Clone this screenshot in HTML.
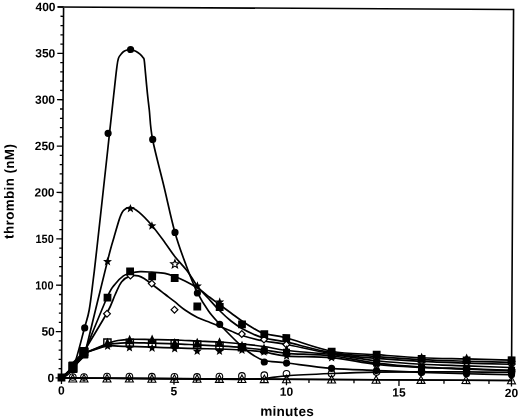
<!DOCTYPE html>
<html><head><meta charset="utf-8"><style>html,body{margin:0;padding:0;background:#fff;width:520px;height:419px;overflow:hidden}svg{display:block;will-change:transform}</style></head>
<body><svg width="520" height="419" viewBox="0 0 520 419"><rect width="520" height="419" fill="#fff"/><g transform="rotate(0.320 61.50 378.00)"><g stroke="#000" stroke-width="1.6" fill="none">
<path d="M55.5,7 H511.5 V378 H61.5 V7"/>
</g>
<path d="M55.5,378.00H61.5 M58.5,368.73H61.5 M58.5,359.45H61.5 M58.5,350.18H61.5 M58.5,340.90H61.5 M55.5,331.62H61.5 M58.5,322.35H61.5 M58.5,313.07H61.5 M58.5,303.80H61.5 M58.5,294.52H61.5 M55.5,285.25H61.5 M58.5,275.98H61.5 M58.5,266.70H61.5 M58.5,257.43H61.5 M58.5,248.15H61.5 M55.5,238.88H61.5 M58.5,229.60H61.5 M58.5,220.32H61.5 M58.5,211.05H61.5 M58.5,201.78H61.5 M55.5,192.50H61.5 M58.5,183.22H61.5 M58.5,173.95H61.5 M58.5,164.68H61.5 M58.5,155.40H61.5 M55.5,146.12H61.5 M58.5,136.85H61.5 M58.5,127.57H61.5 M58.5,118.30H61.5 M58.5,109.02H61.5 M55.5,99.75H61.5 M58.5,90.48H61.5 M58.5,81.20H61.5 M58.5,71.93H61.5 M58.5,62.65H61.5 M55.5,53.38H61.5 M58.5,44.10H61.5 M58.5,34.82H61.5 M58.5,25.55H61.5 M58.5,16.27H61.5 M55.5,7.00H61.5 M61.50,378V384 M84.00,378V381.5 M106.50,378V381.5 M129.00,378V381.5 M151.50,378V381.5 M174.00,378V384 M196.50,378V381.5 M219.00,378V381.5 M241.50,378V381.5 M264.00,378V381.5 M286.50,378V384 M309.00,378V381.5 M331.50,378V381.5 M354.00,378V381.5 M376.50,378V381.5 M399.00,378V384 M421.50,378V381.5 M444.00,378V381.5 M466.50,378V381.5 M489.00,378V381.5 M511.50,378V384" stroke="#000" stroke-width="1.3" fill="none"/>
<g stroke="#000" stroke-width="1.7" fill="none" stroke-linejoin="round" stroke-linecap="round">
<path d="M61.50,378.00 C63.37,376.41 68.96,376.79 72.75,368.44 C76.53,360.08 81.54,337.64 84.22,327.87 C86.90,318.11 87.41,317.85 88.82,309.85 C90.23,301.84 91.46,289.83 92.65,279.82 C93.85,269.82 94.42,264.48 95.98,249.81 C97.55,235.13 100.32,208.45 102.06,191.77 C103.80,175.09 105.41,159.53 106.43,149.75 C107.44,139.96 107.20,142.04 108.13,133.04 C109.07,124.03 110.88,106.54 112.02,95.71 C113.16,84.89 114.21,74.37 114.97,68.10 C115.74,61.83 115.79,60.59 116.61,58.09 C117.43,55.58 118.79,54.34 119.89,53.07 C120.98,51.80 121.71,51.11 123.17,50.45 C124.63,49.79 126.86,49.05 128.66,49.12 C130.46,49.19 132.39,50.12 133.97,50.89 C135.56,51.66 136.98,52.74 138.19,53.77 C139.40,54.79 140.50,56.09 141.21,57.05 C141.91,58.01 141.99,56.90 142.42,59.54 C142.85,62.19 143.23,67.37 143.80,72.94 C144.36,78.50 145.14,86.83 145.81,92.92 C146.48,99.02 146.91,101.92 147.80,109.51 C148.69,117.11 148.68,125.89 151.16,138.50 C153.65,151.10 158.92,169.67 162.72,185.13 C166.53,200.59 170.21,218.07 173.98,231.27 C177.76,244.47 181.56,254.23 185.37,264.31 C189.17,274.39 193.03,284.10 196.82,291.74 C200.61,299.39 204.36,304.92 208.12,310.18 C211.89,315.44 215.62,319.17 219.40,323.32 C223.17,327.46 227.03,331.36 230.76,335.05 C234.50,338.75 238.14,342.35 241.82,345.49 C245.51,348.64 249.12,351.62 252.87,353.93 C256.61,356.24 258.69,358.06 264.30,359.37 C269.90,360.67 275.30,360.52 286.50,361.77 C297.70,363.02 316.50,365.71 331.50,366.87 C346.50,368.03 361.50,368.14 376.50,368.73 C391.50,369.31 406.50,369.93 421.50,370.39 C436.50,370.86 451.50,371.20 466.50,371.51 C481.50,371.82 504.00,372.13 511.50,372.25"/>
<path d="M61.50,378.00 C63.37,376.24 68.62,372.54 72.74,367.44 C76.86,362.33 83.98,350.71 86.23,347.36 L86.23,347.36 C89.65,332.99 102.23,279.59 106.75,261.15 C111.26,242.70 111.29,243.97 113.31,236.71 C115.34,229.45 117.35,222.04 118.90,217.58 C120.46,213.12 120.92,211.72 122.66,209.96 C124.40,208.20 126.79,206.72 129.35,207.02 C131.90,207.32 134.36,208.77 137.97,211.77 C141.59,214.77 146.67,219.94 151.05,225.00 C155.43,230.06 160.36,236.95 164.24,242.12 C168.12,247.30 170.53,251.31 174.32,256.07 C178.11,260.83 183.31,265.88 187.00,270.70 C190.70,275.51 193.06,280.53 196.48,284.94 C199.91,289.36 203.78,293.07 207.55,297.18 C211.32,301.30 215.27,305.81 219.12,309.62 C222.98,313.43 226.91,317.08 230.68,320.05 C234.45,323.03 238.04,325.35 241.72,327.49 C245.40,329.64 249.08,331.37 252.75,332.93 C256.43,334.49 258.15,335.54 263.77,336.87 C269.40,338.20 275.21,338.53 286.50,340.90 C297.79,343.27 316.50,348.78 331.50,351.10 C346.50,353.42 361.50,353.73 376.50,354.81 C391.50,355.89 406.50,356.90 421.50,357.60 C436.50,358.29 451.50,358.60 466.50,358.99 C481.50,359.37 504.00,359.76 511.50,359.91"/>
<path d="M61.50,378.00 C63.37,376.07 68.61,371.54 72.74,366.44 C76.86,361.33 83.98,350.54 86.23,347.36 L86.23,347.36 C89.70,338.84 102.34,306.82 107.04,296.24 C111.75,285.67 111.84,287.35 114.48,283.90 C117.11,280.45 120.34,277.37 122.83,275.56 C125.32,273.74 126.64,273.73 129.41,273.02 C132.19,272.30 135.87,271.48 139.51,271.26 C143.14,271.04 147.06,271.44 151.21,271.70 C155.36,271.96 160.59,272.13 164.41,272.82 C168.23,273.52 170.79,274.62 174.13,275.87 C177.47,277.12 180.65,278.42 184.46,280.31 C188.27,282.21 192.81,284.52 197.00,287.24 C201.18,289.97 205.78,293.86 209.55,296.67 C213.31,299.48 216.08,301.55 219.59,304.12 C223.10,306.68 226.95,309.41 230.63,312.05 C234.32,314.70 238.00,317.51 241.68,319.99 C245.36,322.47 249.04,324.87 252.72,326.93 C256.40,328.99 258.12,330.74 263.75,332.37 C269.38,334.00 275.21,333.84 286.50,336.73 C297.79,339.62 316.50,347.01 331.50,349.71 C346.50,352.42 361.50,351.95 376.50,352.96 C391.50,353.96 406.50,355.12 421.50,355.74 C436.50,356.36 451.50,356.36 466.50,356.67 C481.50,356.98 504.00,357.44 511.50,357.60"/>
<path d="M61.50,378.00 C63.37,376.16 68.62,372.04 72.74,366.94 C76.86,361.83 83.98,350.62 86.23,347.36 L86.23,347.36 C89.71,341.43 102.41,320.52 107.13,311.74 C111.85,302.97 112.20,299.77 114.54,294.70 C116.87,289.64 118.61,284.56 121.16,281.37 C123.71,278.17 127.05,276.50 129.83,275.52 C132.61,274.53 135.38,274.94 137.83,275.47 C140.28,276.01 142.31,277.36 144.55,278.73 C146.79,280.11 149.03,282.04 151.27,283.70 C153.52,285.35 155.79,286.99 158.00,288.66 C160.21,290.33 161.82,291.66 164.53,293.72 C167.24,295.79 170.92,298.47 174.27,301.07 C177.62,303.67 180.80,306.70 184.62,309.31 C188.43,311.92 192.98,314.68 197.16,316.74 C201.34,318.80 205.93,320.19 209.69,321.67 C213.45,323.15 216.20,324.22 219.71,325.62 C223.22,327.01 227.06,328.57 230.73,330.05 C234.41,331.53 236.25,332.86 241.76,334.49 C247.27,336.13 256.33,338.42 263.79,339.87 C271.25,341.32 275.22,341.19 286.50,343.22 C297.78,345.25 316.50,349.79 331.50,352.03 C346.50,354.27 361.50,355.43 376.50,356.67 C391.50,357.90 406.50,358.75 421.50,359.45 C436.50,360.15 451.50,360.45 466.50,360.84 C481.50,361.23 504.00,361.61 511.50,361.77"/>
<path d="M61.50,378.00 C63.37,376.16 68.68,371.21 72.74,366.94 C76.80,362.66 83.67,354.79 85.86,352.36 L85.86,352.36 C89.43,350.84 103.73,344.76 107.31,343.24 L107.31,343.24 C109.05,342.73 114.04,340.91 117.79,340.19 C121.54,339.46 124.12,339.10 129.78,338.92 C135.45,338.74 144.28,339.02 151.78,339.10 C159.28,339.17 167.28,339.18 174.79,339.37 C182.29,339.56 189.37,339.95 196.79,340.24 C204.21,340.54 211.79,340.66 219.30,341.12 C226.80,341.58 234.39,342.28 241.81,342.99 C249.23,343.70 256.37,344.33 263.82,345.37 C271.27,346.41 275.22,347.98 286.50,349.25 C297.78,350.51 316.50,351.33 331.50,352.96 C346.50,354.58 361.50,357.44 376.50,358.99 C391.50,360.53 406.50,361.46 421.50,362.23 C436.50,363.01 451.50,363.16 466.50,363.62 C481.50,364.09 504.00,364.78 511.50,365.02"/>
<path d="M61.50,378.00 C63.37,376.24 68.68,371.71 72.74,367.44 C76.80,363.16 83.67,354.88 85.86,352.36 L85.86,352.36 C89.43,351.01 103.74,345.60 107.31,344.24 L107.31,344.24 C109.06,344.03 114.06,343.32 117.81,342.98 C121.55,342.65 124.13,342.27 129.80,342.22 C135.47,342.17 144.30,342.54 151.80,342.70 C159.31,342.85 167.31,342.93 174.81,343.17 C182.31,343.41 189.39,343.82 196.81,344.14 C204.23,344.47 211.82,344.73 219.32,345.12 C226.82,345.51 234.41,345.87 241.83,346.49 C249.25,347.12 256.39,347.95 263.84,348.87 C271.29,349.79 275.22,351.12 286.50,352.03 C297.78,352.94 316.50,352.80 331.50,354.35 C346.50,355.89 361.50,359.53 376.50,361.31 C391.50,363.08 406.50,364.16 421.50,365.02 C436.50,365.87 451.50,365.94 466.50,366.41 C481.50,366.87 504.00,367.57 511.50,367.80"/>
<path d="M61.50,378.00 C63.37,376.32 68.68,372.21 72.74,367.94 C76.80,363.66 83.67,354.96 85.86,352.36 L85.86,352.36 C89.43,351.18 103.74,346.43 107.32,345.24 L107.32,345.24 C109.07,345.35 114.07,345.76 117.82,345.88 C121.57,346.01 124.15,345.88 129.82,346.02 C135.49,346.15 144.33,346.49 151.83,346.70 C159.33,346.90 167.33,347.08 174.83,347.27 C182.33,347.46 189.42,347.70 196.83,347.84 C204.25,347.99 211.83,347.93 219.34,348.12 C226.84,348.31 234.42,348.53 241.84,348.99 C249.26,349.45 256.41,349.90 263.85,350.87 C271.29,351.84 275.23,353.92 286.50,354.81 C297.77,355.70 316.50,354.89 331.50,356.20 C346.50,357.52 361.50,361.15 376.50,362.70 C391.50,364.24 406.50,364.78 421.50,365.48 C436.50,366.17 451.50,366.41 466.50,366.87 C481.50,367.33 504.00,368.03 511.50,368.26"/>
<path d="M61.50,378.00 C65.25,377.98 57.67,377.82 84.00,377.87 C110.33,377.93 193.25,378.25 219.50,378.32 C245.76,378.39 234.09,378.44 241.50,378.29 C248.92,378.15 256.50,378.11 264.00,377.47 C271.50,376.83 275.25,375.39 286.50,374.48 C297.75,373.56 316.50,372.67 331.50,371.97 C346.50,371.28 361.50,370.66 376.50,370.30 C391.50,369.95 406.50,369.95 421.50,369.84 C436.50,369.73 451.50,369.65 466.50,369.65 C481.50,369.65 504.00,369.81 511.50,369.84"/>
<path d="M61.50,378.00 C136.50,378.00 436.51,377.99 511.51,377.99"/>
</g>
<path d="M72.81,374.44 l4,7.5 l-8,0z" fill="none" stroke="#000" stroke-width="1.1"/>
<path d="M84.01,374.37 l4,7.5 l-8,0z" fill="none" stroke="#000" stroke-width="1.1"/>
<path d="M107.00,374.25 l4,7.5 l-8,0z" fill="none" stroke="#000" stroke-width="1.1"/>
<path d="M129.40,374.12 l4,7.5 l-8,0z" fill="none" stroke="#000" stroke-width="1.1"/>
<path d="M151.91,374.20 l4,7.5 l-8,0z" fill="none" stroke="#000" stroke-width="1.1"/>
<path d="M174.41,374.17 l4,7.5 l-8,0z" fill="none" stroke="#000" stroke-width="1.1"/>
<path d="M197.01,374.04 l4,7.5 l-8,0z" fill="none" stroke="#000" stroke-width="1.1"/>
<path d="M219.41,374.02 l4,7.5 l-8,0z" fill="none" stroke="#000" stroke-width="1.1"/>
<path d="M241.91,373.99 l4,7.5 l-8,0z" fill="none" stroke="#000" stroke-width="1.1"/>
<path d="M264.31,373.97 l4,7.5 l-8,0z" fill="none" stroke="#000" stroke-width="1.1"/>
<path d="M286.51,373.94 l4,7.5 l-8,0z" fill="none" stroke="#000" stroke-width="1.1"/>
<path d="M331.61,373.99 l4,7.5 l-8,0z" fill="none" stroke="#000" stroke-width="1.1"/>
<path d="M376.11,373.94 l4,7.5 l-8,0z" fill="none" stroke="#000" stroke-width="1.1"/>
<path d="M421.01,373.89 l4,7.5 l-8,0z" fill="none" stroke="#000" stroke-width="1.1"/>
<path d="M466.01,373.84 l4,7.5 l-8,0z" fill="none" stroke="#000" stroke-width="1.1"/>
<path d="M511.51,373.79 l4,7.5 l-8,0z" fill="none" stroke="#000" stroke-width="1.1"/>
<circle cx="72.79" cy="376.94" r="3.3" fill="none" stroke="#000" stroke-width="1.1"/>
<circle cx="83.99" cy="376.87" r="3.3" fill="none" stroke="#000" stroke-width="1.1"/>
<circle cx="106.99" cy="376.25" r="3.3" fill="none" stroke="#000" stroke-width="1.1"/>
<circle cx="129.39" cy="376.22" r="3.3" fill="none" stroke="#000" stroke-width="1.1"/>
<circle cx="151.89" cy="376.20" r="3.3" fill="none" stroke="#000" stroke-width="1.1"/>
<circle cx="174.39" cy="376.17" r="3.3" fill="none" stroke="#000" stroke-width="1.1"/>
<circle cx="196.99" cy="376.14" r="3.3" fill="none" stroke="#000" stroke-width="1.1"/>
<circle cx="219.39" cy="375.72" r="3.3" fill="none" stroke="#000" stroke-width="1.1"/>
<circle cx="241.89" cy="374.89" r="3.3" fill="none" stroke="#000" stroke-width="1.1"/>
<circle cx="264.28" cy="374.07" r="3.3" fill="none" stroke="#000" stroke-width="1.1"/>
<circle cx="286.47" cy="372.54" r="3.3" fill="none" stroke="#000" stroke-width="1.1"/>
<circle cx="331.50" cy="371.97" r="3.3" fill="none" stroke="#000" stroke-width="1.1"/>
<circle cx="376.50" cy="370.30" r="3.3" fill="none" stroke="#000" stroke-width="1.1"/>
<circle cx="421.50" cy="369.84" r="3.3" fill="none" stroke="#000" stroke-width="1.1"/>
<circle cx="466.50" cy="369.65" r="3.3" fill="none" stroke="#000" stroke-width="1.1"/>
<circle cx="511.50" cy="369.84" r="3.3" fill="none" stroke="#000" stroke-width="1.1"/>
<path d="M106.64,310.15 l3.4,3.4 l-3.4,3.4 l-3.4,-3.4z" fill="#fff" stroke="#000" stroke-width="1.2"/>
<path d="M129.83,271.82 l3.4,3.4 l-3.4,3.4 l-3.4,-3.4z" fill="#fff" stroke="#000" stroke-width="1.2"/>
<path d="M151.27,279.70 l3.4,3.4 l-3.4,3.4 l-3.4,-3.4z" fill="#fff" stroke="#000" stroke-width="1.2"/>
<path d="M174.12,305.67 l3.4,3.4 l-3.4,3.4 l-3.4,-3.4z" fill="#fff" stroke="#000" stroke-width="1.2"/>
<path d="M241.55,329.59 l3.4,3.4 l-3.4,3.4 l-3.4,-3.4z" fill="#fff" stroke="#000" stroke-width="1.2"/>
<path d="M263.78,334.97 l3.4,3.4 l-3.4,3.4 l-3.4,-3.4z" fill="#fff" stroke="#000" stroke-width="1.2"/>
<path d="M286.11,339.85 l3.4,3.4 l-3.4,3.4 l-3.4,-3.4z" fill="#fff" stroke="#000" stroke-width="1.2"/>
<path d="M331.50,348.63 l3.4,3.4 l-3.4,3.4 l-3.4,-3.4z" fill="#fff" stroke="#000" stroke-width="1.2"/>
<path d="M376.50,353.27 l3.4,3.4 l-3.4,3.4 l-3.4,-3.4z" fill="#fff" stroke="#000" stroke-width="1.2"/>
<path d="M421.50,356.05 l3.4,3.4 l-3.4,3.4 l-3.4,-3.4z" fill="#fff" stroke="#000" stroke-width="1.2"/>
<path d="M466.50,357.44 l3.4,3.4 l-3.4,3.4 l-3.4,-3.4z" fill="#fff" stroke="#000" stroke-width="1.2"/>
<path d="M511.50,358.37 l3.4,3.4 l-3.4,3.4 l-3.4,-3.4z" fill="#fff" stroke="#000" stroke-width="1.2"/>
<rect x="103.60" y="338.74" width="7.2" height="7.2" fill="none" stroke="#000" stroke-width="1.4"/>
<rect x="126.00" y="338.92" width="7.2" height="7.2" fill="none" stroke="#000" stroke-width="1.4"/>
<rect x="148.31" y="339.29" width="7.2" height="7.2" fill="none" stroke="#000" stroke-width="1.4"/>
<rect x="170.90" y="339.07" width="7.2" height="7.2" fill="none" stroke="#000" stroke-width="1.4"/>
<rect x="193.41" y="340.24" width="7.2" height="7.2" fill="none" stroke="#000" stroke-width="1.4"/>
<rect x="215.72" y="341.32" width="7.2" height="7.2" fill="none" stroke="#000" stroke-width="1.4"/>
<rect x="238.23" y="342.69" width="7.2" height="7.2" fill="none" stroke="#000" stroke-width="1.4"/>
<path d="M174.26,259.27 L175.38,262.03 L178.35,262.24 L176.07,264.16 L176.79,267.05 L174.26,265.47 L171.74,267.05 L172.46,264.16 L170.17,262.24 L173.15,262.03Z" fill="#fff" stroke="#000" stroke-width="1.2"/>
<path d="M106.85,256.64 L108.02,259.73 L111.32,259.89 L108.75,261.96 L109.61,265.15 L106.85,263.34 L104.09,265.15 L104.95,261.96 L102.38,259.89 L105.67,259.73Z" fill="#000"/>
<path d="M151.05,220.70 L152.22,223.78 L155.52,223.95 L152.95,226.02 L153.81,229.20 L151.05,227.40 L148.29,229.20 L149.15,226.02 L146.58,223.95 L149.87,223.78Z" fill="#000"/>
<path d="M196.88,280.54 L198.06,283.62 L201.35,283.79 L198.79,285.86 L199.65,289.04 L196.88,287.24 L194.12,289.04 L194.98,285.86 L192.41,283.79 L195.71,283.62Z" fill="#000"/>
<path d="M219.27,296.42 L220.45,299.50 L223.74,299.67 L221.18,301.74 L222.04,304.92 L219.27,303.12 L216.51,304.92 L217.37,301.74 L214.80,299.67 L218.10,299.50Z" fill="#000"/>
<path d="M129.45,203.52 L130.63,206.60 L133.92,206.77 L131.35,208.84 L132.22,212.02 L129.45,210.22 L126.69,212.02 L127.55,208.84 L124.98,206.77 L128.28,206.60Z" fill="#000"/>
<path d="M376.50,350.11 L377.68,353.19 L380.97,353.36 L378.40,355.43 L379.26,358.61 L376.50,356.81 L373.74,358.61 L374.60,355.43 L372.03,353.36 L375.32,353.19Z" fill="#000"/>
<path d="M421.50,352.90 L422.68,355.98 L425.97,356.14 L423.40,358.21 L424.26,361.40 L421.50,359.60 L418.74,361.40 L419.60,358.21 L417.03,356.14 L420.32,355.98Z" fill="#000"/>
<path d="M466.50,354.29 L467.68,357.37 L470.97,357.53 L468.40,359.60 L469.26,362.79 L466.50,360.99 L463.74,362.79 L464.60,359.60 L462.03,357.53 L465.32,357.37Z" fill="#000"/>
<path d="M511.50,355.21 L512.68,358.30 L515.97,358.46 L513.40,360.53 L514.26,363.72 L511.50,361.91 L508.74,363.72 L509.60,360.53 L507.03,358.46 L510.32,358.30Z" fill="#000"/>
<path d="M107.42,341.24 L108.60,344.32 L111.89,344.49 L109.32,346.56 L110.18,349.75 L107.42,347.94 L104.66,349.75 L105.52,346.56 L102.95,344.49 L106.25,344.32Z" fill="#000"/>
<path d="M129.33,342.72 L130.51,345.80 L133.80,345.97 L131.23,348.04 L132.09,351.22 L129.33,349.42 L126.57,351.22 L127.43,348.04 L124.86,345.97 L128.15,345.80Z" fill="#000"/>
<path d="M151.93,342.89 L153.11,345.98 L156.40,346.14 L153.83,348.21 L154.69,351.40 L151.93,349.59 L149.17,351.40 L150.03,348.21 L147.46,346.14 L150.76,345.98Z" fill="#000"/>
<path d="M174.54,343.47 L175.71,346.55 L179.01,346.72 L176.44,348.79 L177.30,351.97 L174.54,350.17 L171.77,351.97 L172.63,348.79 L170.07,346.72 L173.36,346.55Z" fill="#000"/>
<path d="M197.05,345.84 L198.22,348.92 L201.52,349.09 L198.95,351.16 L199.81,354.34 L197.05,352.54 L194.29,354.34 L195.15,351.16 L192.58,349.09 L195.87,348.92Z" fill="#000"/>
<path d="M219.35,345.72 L220.52,348.80 L223.82,348.97 L221.25,351.04 L222.11,354.22 L219.35,352.42 L216.59,354.22 L217.45,351.04 L214.88,348.97 L218.17,348.80Z" fill="#000"/>
<path d="M241.84,344.59 L243.02,347.67 L246.31,347.84 L243.74,349.91 L244.61,353.09 L241.84,351.29 L239.08,353.09 L239.94,349.91 L237.37,347.84 L240.67,347.67Z" fill="#000"/>
<path d="M263.85,346.17 L265.03,349.25 L268.32,349.42 L265.75,351.49 L266.61,354.67 L263.85,352.87 L261.09,354.67 L261.95,351.49 L259.38,349.42 L262.68,349.25Z" fill="#000"/>
<path d="M286.50,350.11 L287.68,353.19 L290.97,353.36 L288.40,355.43 L289.26,358.61 L286.50,356.81 L283.74,358.61 L284.60,355.43 L282.03,353.36 L285.32,353.19Z" fill="#000"/>
<path d="M331.50,351.50 L332.68,354.59 L335.97,354.75 L333.40,356.82 L334.26,360.01 L331.50,358.20 L328.74,360.01 L329.60,356.82 L327.03,354.75 L330.32,354.59Z" fill="#000"/>
<path d="M376.50,358.00 L377.68,361.08 L380.97,361.24 L378.40,363.31 L379.26,366.50 L376.50,364.70 L373.74,366.50 L374.60,363.31 L372.03,361.24 L375.32,361.08Z" fill="#000"/>
<path d="M421.50,360.78 L422.68,363.86 L425.97,364.03 L423.40,366.10 L424.26,369.28 L421.50,367.48 L418.74,369.28 L419.60,366.10 L417.03,364.03 L420.32,363.86Z" fill="#000"/>
<path d="M466.50,362.17 L467.68,365.25 L470.97,365.42 L468.40,367.49 L469.26,370.67 L466.50,368.87 L463.74,370.67 L464.60,367.49 L462.03,365.42 L465.32,365.25Z" fill="#000"/>
<path d="M511.50,363.56 L512.68,366.64 L515.97,366.81 L513.40,368.88 L514.26,372.06 L511.50,370.26 L508.74,372.06 L509.60,368.88 L507.03,366.81 L510.32,366.64Z" fill="#000"/>
<path d="M107.21,337.54 l4.3,9.5 l-8.6,0z" fill="#000"/>
<path d="M129.39,334.32 l4.3,9.5 l-8.6,0z" fill="#000"/>
<path d="M151.89,333.99 l4.3,9.5 l-8.6,0z" fill="#000"/>
<path d="M174.50,337.27 l4.3,9.5 l-8.6,0z" fill="#000"/>
<path d="M197.00,336.94 l4.3,9.5 l-8.6,0z" fill="#000"/>
<path d="M219.30,336.42 l4.3,9.5 l-8.6,0z" fill="#000"/>
<path d="M241.82,339.69 l4.3,9.5 l-8.6,0z" fill="#000"/>
<path d="M263.83,342.37 l4.3,9.5 l-8.6,0z" fill="#000"/>
<path d="M286.50,343.75 l4.3,9.5 l-8.6,0z" fill="#000"/>
<path d="M331.50,347.46 l4.3,9.5 l-8.6,0z" fill="#000"/>
<path d="M376.50,353.49 l4.3,9.5 l-8.6,0z" fill="#000"/>
<path d="M421.50,350.70 l4.3,9.5 l-8.6,0z" fill="#000"/>
<path d="M466.50,351.17 l4.3,9.5 l-8.6,0z" fill="#000"/>
<path d="M511.50,359.52 l4.3,9.5 l-8.6,0z" fill="#000"/>
<rect x="260.64" y="346.17" width="7" height="7" fill="#000"/>
<rect x="282.85" y="347.54" width="7" height="7" fill="#000"/>
<rect x="328.00" y="350.85" width="7" height="7" fill="#000"/>
<rect x="373.00" y="357.81" width="7" height="7" fill="#000"/>
<rect x="418.00" y="361.52" width="7" height="7" fill="#000"/>
<rect x="463.00" y="362.91" width="7" height="7" fill="#000"/>
<rect x="508.00" y="364.30" width="7" height="7" fill="#000"/>
<circle cx="84.42" cy="327.77" r="3.6" fill="#000"/>
<circle cx="106.73" cy="133.04" r="3.6" fill="#000"/>
<circle cx="128.76" cy="49.12" r="3.6" fill="#000"/>
<circle cx="151.37" cy="138.89" r="3.6" fill="#000"/>
<circle cx="174.19" cy="231.77" r="3.6" fill="#000"/>
<circle cx="196.92" cy="292.24" r="3.6" fill="#000"/>
<circle cx="219.40" cy="323.42" r="3.6" fill="#000"/>
<circle cx="241.82" cy="345.99" r="3.6" fill="#000"/>
<circle cx="264.21" cy="360.87" r="3.6" fill="#000"/>
<circle cx="286.50" cy="361.77" r="3.6" fill="#000"/>
<circle cx="331.50" cy="366.87" r="3.6" fill="#000"/>
<circle cx="376.50" cy="368.73" r="3.6" fill="#000"/>
<circle cx="421.50" cy="370.39" r="3.6" fill="#000"/>
<circle cx="466.50" cy="371.51" r="3.6" fill="#000"/>
<circle cx="511.50" cy="372.25" r="3.6" fill="#000"/>
<rect x="57.60" y="373.60" width="7.8" height="7.8" fill="#000"/>
<rect x="68.63" y="362.04" width="7.8" height="7.8" fill="#000"/>
<rect x="80.45" y="347.97" width="7.8" height="7.8" fill="#000"/>
<rect x="103.15" y="293.44" width="7.8" height="7.8" fill="#000"/>
<rect x="125.60" y="267.02" width="7.8" height="7.8" fill="#000"/>
<rect x="147.73" y="271.90" width="7.8" height="7.8" fill="#000"/>
<rect x="170.24" y="273.47" width="7.8" height="7.8" fill="#000"/>
<rect x="193.00" y="301.84" width="7.8" height="7.8" fill="#000"/>
<rect x="215.40" y="302.22" width="7.8" height="7.8" fill="#000"/>
<rect x="237.80" y="319.39" width="7.8" height="7.8" fill="#000"/>
<rect x="260.15" y="329.17" width="7.8" height="7.8" fill="#000"/>
<rect x="282.17" y="332.85" width="7.8" height="7.8" fill="#000"/>
<rect x="327.60" y="346.27" width="7.8" height="7.8" fill="#000"/>
<rect x="372.60" y="349.06" width="7.8" height="7.8" fill="#000"/>
<rect x="417.60" y="352.95" width="7.8" height="7.8" fill="#000"/>
<rect x="462.60" y="354.16" width="7.8" height="7.8" fill="#000"/>
<rect x="507.60" y="353.88" width="7.8" height="7.8" fill="#000"/>
<rect x="68.24" y="361.44" width="9.4" height="11.4" rx="1" fill="#000"/>
<rect x="78.96" y="346.88" width="9.4" height="11.4" rx="1" fill="#000"/>
<path d="M74.42,363.43 L82.37,355.38" stroke="#000" stroke-width="5" stroke-linecap="round"/>
<g font-family="Liberation Sans, sans-serif" font-weight="bold" font-size="12" fill="#000" text-anchor="end">
<text transform="translate(54.2,378.10) scale(1.00,1)" dominant-baseline="central">0</text>
<text transform="translate(54.5,331.73) scale(1.00,1)" dominant-baseline="central">50</text>
<text transform="translate(53.0,285.35) scale(0.91,1)" dominant-baseline="central">100</text>
<text transform="translate(53.0,238.97) scale(0.91,1)" dominant-baseline="central">150</text>
<text transform="translate(53.5,192.60) scale(1.00,1)" dominant-baseline="central">200</text>
<text transform="translate(53.5,146.22) scale(1.00,1)" dominant-baseline="central">250</text>
<text transform="translate(53.5,99.85) scale(1.00,1)" dominant-baseline="central">300</text>
<text transform="translate(53.5,53.48) scale(1.00,1)" dominant-baseline="central">350</text>
<text transform="translate(53.5,7.10) scale(1.00,1)" dominant-baseline="central">400</text>
</g>
<g font-family="Liberation Sans, sans-serif" font-weight="bold" font-size="12" fill="#000" text-anchor="middle">
<text x="61.50" y="394.6">0</text>
<text x="174.00" y="394.6">5</text>
<text x="286.50" y="394.6">10</text>
<text x="399.00" y="394.6">15</text>
<text x="511.50" y="394.6">20</text>
<text x="287.3" y="414.7" font-size="13.6" letter-spacing="0.25">minutes</text>
<text transform="translate(12.8,191.6) rotate(-90)" font-size="13.4" letter-spacing="0.4">thrombin (nM)</text>
</g></g></svg></body></html>
